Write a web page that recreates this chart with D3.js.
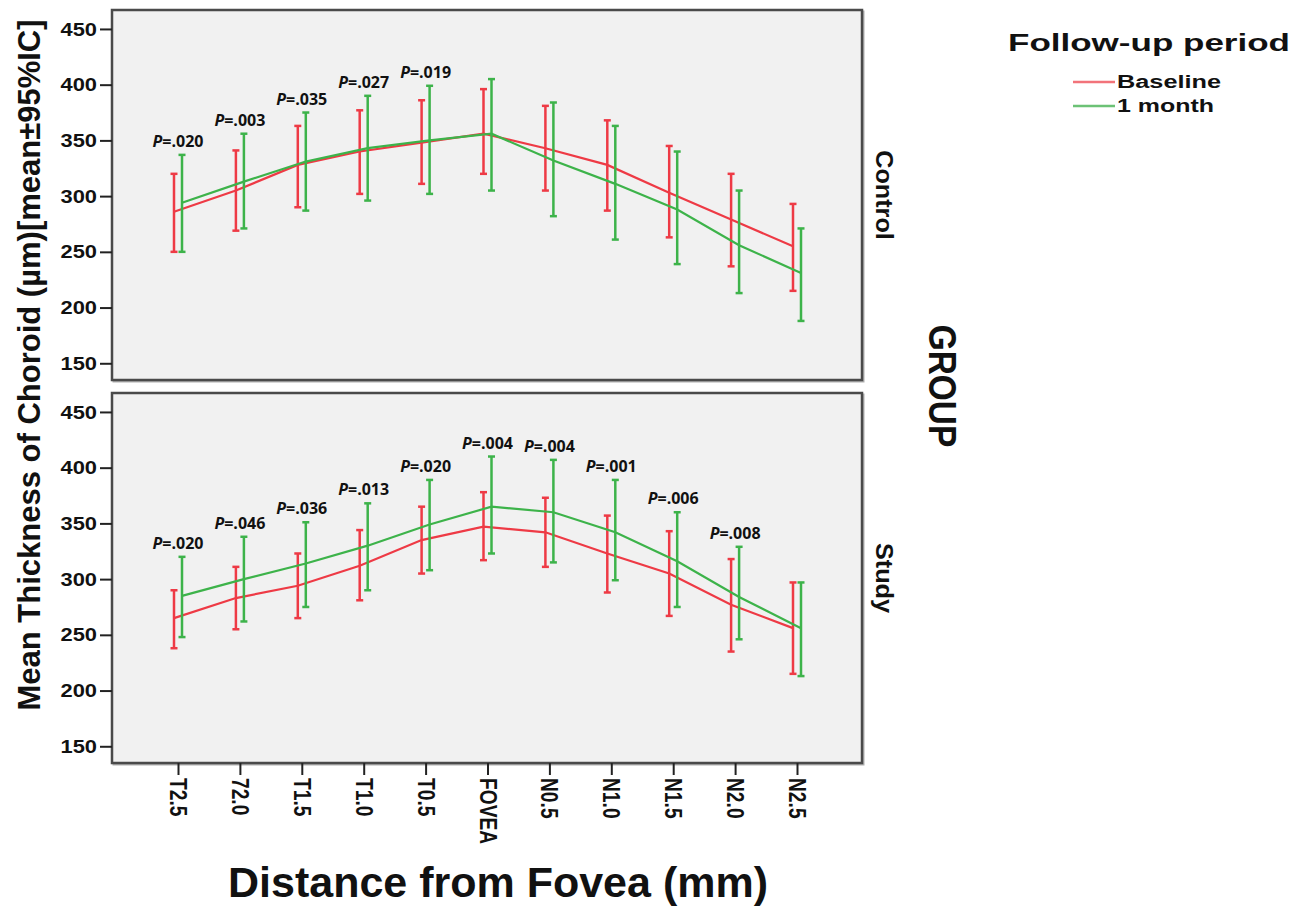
<!DOCTYPE html>
<html>
    <head>
        <meta charset="utf-8">
        <script src="https://d3js.org/d3.v7.min.js"></script>
        <style>
            body { margin: 0; background: white; }
            text { font-family: "Liberation Sans", Arial, sans-serif; fill: #111; }
            .panel { fill: #f1f1f1; stroke: #4a4a4a; stroke-width: 2.5px; }
            .shadow { fill: none; stroke: #b0b0b0; stroke-width: 2px; }
            .axis text { font-size: 19px; font-weight: bold; fill: #111; }
            .axis line { stroke: #222; stroke-width: 2px; }
            .axis path { display: none; }
            .ptext { font-family: "Open Sans", "Liberation Sans", sans-serif; font-size: 16px; font-weight: bold; }
            .mean_line { fill: none; stroke-width: 2.2px; }
            .errbar { stroke-width: 2.5px; }
        </style>
    </head>

    <body>
        <svg id="chart" width="1304" height="909"></svg>

        <script>
            // categories along the x axis (tick labels as printed)
            const positions = ["T2.5", "72.0", "T1.5", "T1.0", "T0.5", "FOVEA", "N0.5", "N1.0", "N1.5", "N2.0", "N2.5"];
            const groups = ["Control", "Study"];
            const periods = ["Baseline", "1 month"];

            // Control group
            const controlBaseMean  = [286, 305, 328, 340, 348, 356, 343, 328, 303, 279, 255];
            const controlBaseLow   = [250, 269, 290, 302, 311, 320, 305, 287, 263, 237, 215];
            const controlBaseHigh  = [320, 341, 363, 377, 386, 396, 381, 368, 345, 320, 293];
            const controlMonthMean = [294, 313, 331, 343, 350, 356, 332, 311, 288, 256, 231];
            const controlMonthLow  = [250, 271, 287, 296, 302, 305, 282, 261, 239, 213, 188];
            const controlMonthHigh = [337, 356, 375, 390, 399, 405, 384, 363, 340, 305, 271];
            const controlP = [".020", ".003", ".035", ".027", ".019", null, null, null, null, null, null];

            // Study group
            const studyBaseMean  = [265, 283, 294, 312, 335, 347, 342, 323, 305, 277, 256];
            const studyBaseLow   = [238, 255, 265, 281, 305, 317, 311, 288, 267, 235, 215];
            const studyBaseHigh  = [290, 311, 323, 344, 365, 378, 373, 357, 343, 318, 297];
            const studyMonthMean = [285, 300, 314, 330, 349, 365, 360, 342, 316, 284, 256];
            const studyMonthLow  = [248, 262, 275, 290, 308, 323, 315, 299, 275, 246, 213];
            const studyMonthHigh = [320, 338, 351, 368, 389, 410, 407, 389, 360, 329, 297];
            const studyP = [".020", ".046", ".036", ".013", ".020", ".004", ".004", ".001", ".006", ".008", null];

            const yTicks = [150, 200, 250, 300, 350, 400, 450];
            const yDomain = [135, 467];

            const colors = {"Baseline": "#ee3a45", "1 month": "#3db34a"};
            const legendColors = {"Baseline": "#f2737a", "1 month": "#6cc276"};
            const offsets = {"Baseline": -4, "1 month": 4};

            const svg = d3.select("#chart");

            const panelLeft = 112, panelRight = 862;
            const panels = [
                {name: "Control", top: 10, bottom: 380, pvals: controlP,
                 series: {"Baseline": [controlBaseMean, controlBaseLow, controlBaseHigh],
                          "1 month": [controlMonthMean, controlMonthLow, controlMonthHigh]}},
                {name: "Study", top: 393, bottom: 763, pvals: studyP,
                 series: {"Baseline": [studyBaseMean, studyBaseLow, studyBaseHigh],
                          "1 month": [studyMonthMean, studyMonthLow, studyMonthHigh]}}
            ];

            const xScale = d3.scalePoint().domain(positions).range([178, 797]);

            // stretch / squeeze text to the look of the original
            function scaleText(sel, k) {
                sel.each(function() {
                    const len = this.getComputedTextLength();
                    d3.select(this).attr("textLength", len * k).attr("lengthAdjust", "spacingAndGlyphs");
                });
            }

            panels.forEach((p, pi) => {
                const yScale = d3.scaleLinear().domain(yDomain).range([p.bottom, p.top]);

                svg.append("rect").attr("class", "shadow")
                   .attr("x", panelLeft + 1.5).attr("y", p.top + 1.5)
                   .attr("width", panelRight - panelLeft).attr("height", p.bottom - p.top);
                svg.append("rect").attr("class", "panel")
                   .attr("x", panelLeft).attr("y", p.top)
                   .attr("width", panelRight - panelLeft).attr("height", p.bottom - p.top);

                const yAxis = svg.append("g").attr("class", "axis")
                   .attr("transform", "translate(" + panelLeft + ",0)")
                   .call(d3.axisLeft(yScale).tickValues(yTicks).tickSize(12).tickPadding(3));
                scaleText(yAxis.selectAll("text"), 1.15);

                periods.forEach(per => {
                    const [mean, low, high] = p.series[per];
                    const pts = positions.map((c, i) => ({x: xScale(c) + offsets[per], m: mean[i], lo: low[i], hi: high[i]}));
                    const g = svg.append("g").style("stroke", colors[per]);

                    g.append("path").attr("class", "mean_line")
                     .datum(pts)
                     .attr("d", d3.line().x(d => d.x).y(d => yScale(d.m)));

                    g.selectAll(".errbar").data(pts).enter()
                     .append("line").attr("class", "errbar")
                     .attr("x1", d => d.x).attr("x2", d => d.x)
                     .attr("y1", d => yScale(d.lo)).attr("y2", d => yScale(d.hi));

                    g.selectAll(".capHi").data(pts).enter()
                     .append("line").attr("class", "errbar")
                     .attr("x1", d => d.x - 3.5).attr("x2", d => d.x + 3.5)
                     .attr("y1", d => yScale(d.hi)).attr("y2", d => yScale(d.hi));
                    g.selectAll(".capLo").data(pts).enter()
                     .append("line").attr("class", "errbar")
                     .attr("x1", d => d.x - 3.5).attr("x2", d => d.x + 3.5)
                     .attr("y1", d => yScale(d.lo)).attr("y2", d => yScale(d.lo));
                });

                // p-values above each pair of bars
                const hiA = p.series["Baseline"][2], hiB = p.series["1 month"][2];
                positions.forEach((c, i) => {
                    if (!p.pvals[i]) return;
                    const t = svg.append("text").attr("class", "ptext")
                       .attr("x", xScale(c))
                       .attr("y", yScale(Math.max(hiA[i], hiB[i])) - 8)
                       .attr("text-anchor", "middle");
                    t.append("tspan").style("font-style", "italic").text("P");
                    t.append("tspan").text("=" + p.pvals[i]);
                });

                // facet label
                const fl = svg.append("text")
                   .attr("transform", "translate(876," + ((p.top + p.bottom) / 2) + ") rotate(90)")
                   .attr("text-anchor", "middle")
                   .style("font-size", "24px").style("font-weight", "bold")
                   .text(p.name);
                scaleText(fl, 1.05);

                if (pi === panels.length - 1) {
                    const xAxis = svg.append("g").attr("class", "axis")
                       .attr("transform", "translate(0," + p.bottom + ")")
                       .call(d3.axisBottom(xScale).tickSize(12));
                    xAxis.selectAll("text")
                       .attr("transform", "rotate(90)")
                       .attr("x", 15).attr("y", 0).attr("dy", "0.35em")
                       .attr("text-anchor", "start")
                       .style("font-size", "24px");
                    scaleText(xAxis.selectAll("text"), 0.8);
                }
            });

            // axis titles
            svg.append("text")
               .attr("transform", "translate(40,365) rotate(-90)")
               .attr("text-anchor", "middle")
               .style("font-size", "31px").style("font-weight", "bold")
               .text("Mean Thickness of Choroid (µm)[mean±95%IC]");

            svg.append("text")
               .attr("x", 498).attr("y", 897)
               .attr("text-anchor", "middle")
               .style("font-size", "43px").style("font-weight", "bold")
               .text("Distance from Fovea (mm)");

            const gt = svg.append("text")
               .attr("transform", "translate(929,386) rotate(90)")
               .attr("text-anchor", "middle")
               .style("font-size", "38px").style("font-weight", "bold")
               .text("GROUP");
            scaleText(gt, 0.88);

            // legend
            svg.append("text")
               .attr("x", 1008).attr("y", 51)
               .style("font-size", "24px").style("font-weight", "bold")
               .attr("textLength", 282).attr("lengthAdjust", "spacingAndGlyphs")
               .text("Follow-up period");

            const legendWidths = {"Baseline": 104, "1 month": 97};
            periods.forEach((per, i) => {
                const ly = 82 + i * 24;
                svg.append("line")
                   .attr("x1", 1073).attr("x2", 1115)
                   .attr("y1", ly).attr("y2", ly)
                   .style("stroke", legendColors[per]).style("stroke-width", 2.5);
                svg.append("text")
                   .attr("x", 1117).attr("y", ly + 6)
                   .style("font-size", "18px").style("font-weight", "bold")
                   .attr("textLength", legendWidths[per]).attr("lengthAdjust", "spacingAndGlyphs")
                   .text(per);
            });
        </script>
    </body>
</html>
